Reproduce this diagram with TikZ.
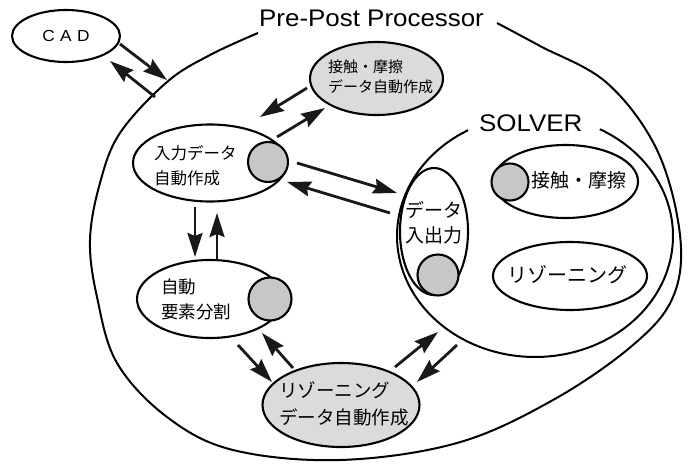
\documentclass[tikz,border=0pt]{standalone}
\usepackage{fontspec}
\newfontfamily\latin[FakeStretch=1.08]{Liberation Sans}
\newfontfamily\jp{Noto Sans CJK JP}
\usetikzlibrary{arrows.meta,shapes.geometric}

\tikzset{
  bubble/.style={ellipse, draw, line width=2.1pt, inner sep=0pt},
  shaded/.style={bubble, fill=gray!28},
  port/.style={circle, draw, line width=2.1pt, fill=black!22, inner sep=0pt},
  flow/.style={line width=2.8pt, draw=black!90,
    -{Stealth[length=24pt,width=15pt,inset=3pt]}},
  jtext/.style={inner sep=0pt, anchor=west, align=left},
  boundary/.style={line width=2pt},
}

\begin{document}
\begin{tikzpicture}[x=1pt, y=-1pt]
\useasboundingbox (0,0) rectangle (695,468);

% Pre-Post Processor boundary (open at the top for its title)
\draw[boundary] plot[smooth, tension=0.6] coordinates {
  (497,23) (540,46) (607,83) (657,150) (680,235) (673,297) (633,345)
  (553,400) (457,443) (340,460) (233,450) (167,417) (117,363) (97,297)
  (90,240) (100,183) (120,133) (167,82) (210,55) (258,33)};
\node[font=\latin\fontsize{24}{24}\selectfont, anchor=base west, inner sep=0pt]
  (title) at (259,27) {Pre-Post Processor};

% SOLVER boundary (open at the top for its title)
\draw[boundary] plot[smooth, domain=-241:62, samples=120]
  ({535+138*cos(\x)}, {236-121*sin(\x)});
\node[font=\latin\fontsize{24}{24}\selectfont, anchor=base west, inner sep=0pt]
  (solver) at (479,131) {SOLVER};

% CAD
\node[bubble, minimum width=108, minimum height=52,
      font=\latin\fontsize{16}{16}\selectfont] (cad) at (66,36) {C\,\,A\,\,D};

% pre/post processor modules
\node[shaded, minimum width=133, minimum height=73] (contactgen) at (376.5,78.5) {};
\node[jtext, font=\jp\fontsize{15}{20}\selectfont] (contactgentext) at (328,77)
  {接触・摩擦\\データ自動作成};

\node[bubble, minimum width=154, minimum height=77] (input) at (210,163) {};
\node[port, minimum size=40] (inputport) at (268,162) {};
\node[jtext, font=\jp\fontsize{16.5}{25}\selectfont] (inputtext) at (154,165.5)
  {入力データ\\自動作成};

\node[bubble, minimum width=146, minimum height=78] (mesh) at (210,299) {};
\node[port, minimum size=43] (meshport) at (270,299) {};
\node[jtext, font=\jp\fontsize{17.5}{25}\selectfont] (meshtext) at (161,299.5)
  {自動\\要素分割};

\node[shaded, minimum width=157, minimum height=84] (rezgen) at (341,405) {};
\node[jtext, font=\jp\fontsize{18.5}{27}\selectfont] (rezgentext) at (279,403.5)
  {リゾーニング\\データ自動作成};

% solver modules
\node[bubble, minimum width=68, minimum height=127] (dataio) at (434,231.5) {};
\node[port, minimum size=41] (dataioport) at (438,275) {};
\node[jtext, font=\jp\fontsize{19}{25}\selectfont] (dataiotext) at (405,222.5)
  {データ\\入出力};

\node[bubble, minimum width=145, minimum height=73] (contact) at (565.5,181.5) {};
\node[port, minimum size=37] (contactport) at (510,182) {};
\node[jtext, font=\jp\fontsize{19}{19}\selectfont] (contacttext) at (531,180)
  {接触・摩擦};

\node[bubble, minimum width=154, minimum height=68] (rezoning) at (570,276) {};
\node[jtext, font=\jp\fontsize{20}{20}\selectfont] (rezoningtext) at (507,275)
  {リゾーニング};

% connector end points
\coordinate (cadout)   at (120,44);   \coordinate (ppin)     at (167,80);
\coordinate (ppout)    at (155,97);   \coordinate (cadin)    at (110,61);
\coordinate (cgout)    at (307,88);   \coordinate (inin)     at (260,117);
\coordinate (inout)    at (277,137);  \coordinate (cgin)     at (325,108);
\coordinate (portout)  at (297,163);  \coordinate (ioin)     at (397,193);
\coordinate (ioout)    at (390,213);  \coordinate (portin)   at (287,182);
\coordinate (indown)   at (195,207);  \coordinate (meshin)   at (195,257);
\coordinate (meshup)   at (217,260);  \coordinate (inbottom) at (217,213);
\coordinate (meshout)  at (238,345);  \coordinate (rgin)     at (272,382);
\coordinate (rgout)    at (293,368);  \coordinate (meshback) at (262,333);
\coordinate (rgsolv)   at (395,367);  \coordinate (solvin)   at (438,332);
\coordinate (solvout)  at (457,345);  \coordinate (rgback)   at (417,382);

% data flow
\draw[flow] (cadout) -- (ppin);
\draw[flow] (ppout) -- (cadin);
\draw[flow] (cgout) -- (inin);
\draw[flow] (inout) -- (cgin);
\draw[flow] (portout) -- (ioin);
\draw[flow] (ioout) -- (portin);
\draw[flow] (indown) -- (meshin);
\draw[flow] (meshup) -- (inbottom);
\draw[flow] (meshout) -- (rgin);
\draw[flow] (rgout) -- (meshback);
\draw[flow] (rgsolv) -- (solvin);
\draw[flow] (solvout) -- (rgback);
\end{tikzpicture}
\end{document}
